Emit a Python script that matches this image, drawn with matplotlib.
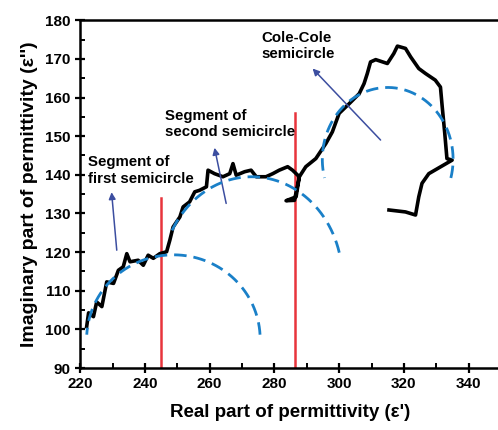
import matplotlib
matplotlib.use("Agg")
import matplotlib.pyplot as plt
import numpy as np
from matplotlib.ticker import MultipleLocator

plt.rcParams.update(
    {
        "font.family": ["Liberation Sans", "DejaVu Sans"],
        "font.weight": "bold",
        "axes.linewidth": 1.8,
    }
)

# measured Cole-Cole trace (real, imaginary)
EPS_REAL = [
    222.0, 222.6, 224.1, 225.1, 226.7, 228.2, 230.3, 231.8, 233.3, 234.4,
    235.4, 237.9, 239.5, 241.0, 242.6, 244.6, 246.7, 247.7, 248.7, 250.8,
    251.8, 253.8, 255.4, 256.9, 259.0, 259.5, 261.5, 264.1, 266.2, 267.2,
    268.2, 270.8, 272.8, 274.4, 277.4, 279.5, 281.5, 284.1, 285.6, 287.7,
    286.2, 283.6, 286.7, 287.7, 289.7, 292.8, 295.9, 297.9, 300.0, 303.1,
    306.2, 307.7, 308.7, 309.7, 311.3, 314.9, 316.9, 318.0, 320.5, 322.1,
    324.6, 326.7, 329.7, 331.3, 331.8, 332.6, 333.3, 334.9, 327.7, 325.6,
    324.6, 323.6, 320.5, 315.4,
]
EPS_IMAG = [
    100.7, 104.3, 103.3, 107.1, 105.9, 112.3, 111.9, 115.3, 116.2, 119.6,
    117.5, 117.9, 116.6, 119.2, 118.4, 119.6, 120.1, 123.1, 126.5, 129.1,
    131.7, 133.0, 135.6, 136.0, 136.9, 141.2, 140.3, 139.5, 140.3, 142.9,
    139.9, 140.8, 141.2, 139.5, 139.5, 140.3, 141.2, 142.1, 141.2, 139.5,
    133.4, 133.3, 134.3, 139.5, 142.1, 144.2, 148.1, 151.1, 155.9, 158.4,
    161.0, 163.6, 166.2, 169.2, 169.8, 168.8, 171.4, 173.3, 172.7, 170.5,
    167.5, 166.2, 164.5, 162.7, 158.0, 151.0, 144.2, 143.8, 140.3, 137.8,
    134.3, 129.6, 130.4, 130.9,
]

# fitted semicircles: centre x, centre y, x radius, y radius, start/end angle (deg)
ARC_CX = [248.8, 273.0, 315.0]
ARC_CY = [97.5, 113.0, 144.0]
ARC_RX = [26.8, 28.0, 20.2]
ARC_RY = [21.8, 26.5, 18.6]
ARC_START = [3, 15, -15]
ARC_END = [177, 154, 195]

# boundaries between segments
SPLIT_X = [245.0, 286.5]
SPLIT_TOP = [134.0, 156.0]

# annotations: text, text position, arrow tail, arrow head
LABELS = ["Segment of\nfirst semicircle", "Segment of\nsecond semicircle", "Cole-Cole\nsemicircle"]
LABEL_XY = [(222.5, 145.0), (246.3, 157.0), (276.0, 177.2)]
ARROW_TAIL = [(231.3, 120.5), (265.1, 132.6), (312.8, 149.0)]
ARROW_HEAD = [(229.7, 135.5), (261.5, 147.0), (291.8, 167.5)]

fig = plt.figure(figsize=(4.98, 4.30), dpi=100)
ax = fig.add_axes([0.161, 0.144, 0.845, 0.809])

ax.plot(EPS_REAL, EPS_IMAG, color="black", lw=2.6, solid_joinstyle="round", zorder=3)

for cx, cy, rx, ry, a0, a1 in zip(ARC_CX, ARC_CY, ARC_RX, ARC_RY, ARC_START, ARC_END):
    t = np.radians(np.linspace(a0, a1, 200))
    ax.plot(cx + rx * np.cos(t), cy + ry * np.sin(t), color="#1a80c8",
            lw=2.0, ls=(0, (4.5, 2.5)), zorder=4)

for sx, top in zip(SPLIT_X, SPLIT_TOP):
    ax.plot([sx, sx], [90, top], color="#e8343c", lw=1.8, zorder=2)

for (tx, ty), (ax0, ay0), (hx, hy), txt in zip(LABEL_XY, ARROW_TAIL, ARROW_HEAD, LABELS):
    ax.text(tx, ty, txt, fontsize=10.8, fontweight="bold", va="top", ha="left",
            linespacing=1.2)
    ax.annotate("", xy=(hx, hy), xytext=(ax0, ay0),
                arrowprops=dict(arrowstyle="-|>", color="#3c4ea0", lw=1.1,
                                mutation_scale=10, shrinkA=0, shrinkB=0))

ax.set_xlim(220, 350)
ax.set_ylim(90, 180)
ax.xaxis.set_major_locator(MultipleLocator(20))
ax.xaxis.set_minor_locator(MultipleLocator(10))
ax.yaxis.set_major_locator(MultipleLocator(10))
ax.yaxis.set_minor_locator(MultipleLocator(5))
ax.tick_params(which="major", direction="inout", length=7, width=1.6, labelsize=11)
ax.tick_params(which="minor", direction="in", length=3.5, width=1.4)
ax.tick_params(axis="x", pad=3)
ax.spines["right"].set_visible(False)
for lab in ax.get_xticklabels() + ax.get_yticklabels():
    lab.set_fontweight("bold")

ax.set_xlabel("Real part of permittivity (ε')", fontsize=13.5, fontweight="bold", labelpad=9)
ax.set_ylabel("Imaginary part of permittivity (ε'')", fontsize=14, fontweight="bold", labelpad=5)

fig.savefig("out.png", dpi=100)
